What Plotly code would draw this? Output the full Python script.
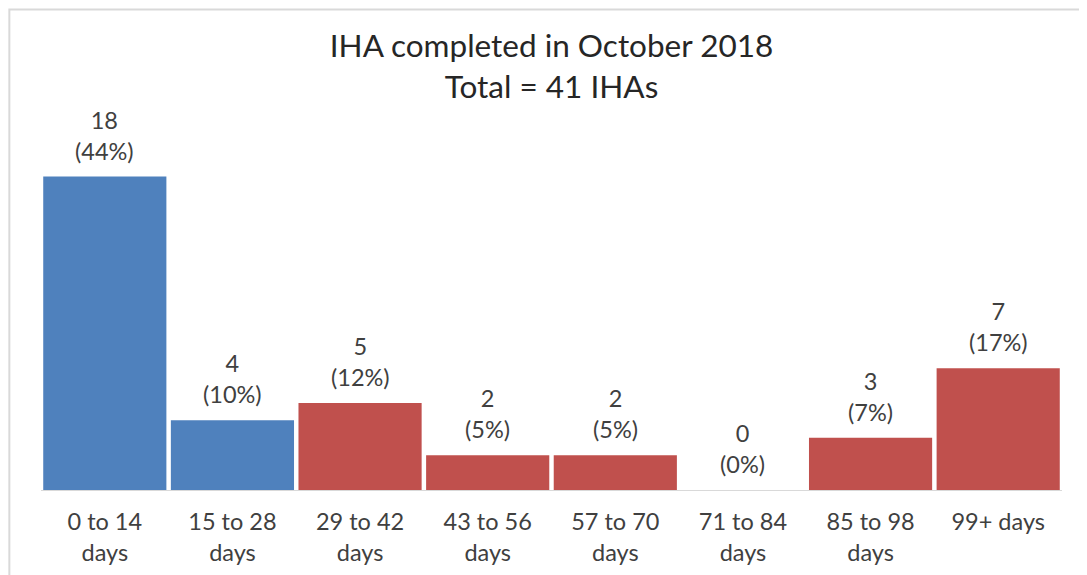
import plotly.graph_objects as go

categories = ["0 to 14<br>days", "15 to 28<br>days", "29 to 42<br>days", "43 to 56<br>days",
              "57 to 70<br>days", "71 to 84<br>days", "85 to 98<br>days", "99+ days"]
counts = [18, 4, 5, 2, 2, 0, 3, 7]
percents = [44, 10, 12, 5, 5, 0, 7, 17]
colors = ["#4F81BD", "#4F81BD", "#C0504D", "#C0504D", "#C0504D", "#C0504D", "#C0504D", "#C0504D"]

labels = [f"{c}<br>({p}%)" for c, p in zip(counts, percents)]

fig = go.Figure(go.Bar(x=categories, y=counts, marker_color=colors, marker_line_width=0))

# value labels above bars, a bit more spaced than the default outside text
for cat, cnt, lab in zip(categories, counts, labels):
    fig.add_annotation(x=cat, y=cnt, text=lab, showarrow=False, yanchor="bottom", yshift=10,
                       font=dict(size=23.5, color="#404040"))

fig.update_layout(
    width=1087, height=575,
    title=dict(text="IHA completed in October 2018<br>Total = 41 IHAs", x=0.5, xref="paper",
               xanchor="center", y=0.914, yanchor="middle", font=dict(size=31.5, color="#262626")),
    font=dict(family="Lato, Open Sans, sans-serif", color="#404040"),
    paper_bgcolor="white", plot_bgcolor="white",
    margin=dict(l=33, r=33, t=92, b=93),
    bargap=0.035,
    showlegend=False,
    xaxis=dict(showline=True, linecolor="#D9D9D9", linewidth=1, tickfont=dict(size=23.5),
               ticks="", showgrid=False, ticklabelstandoff=11, automargin=False),
    yaxis=dict(range=[0, 22.4], visible=False, showgrid=False),
    shapes=[dict(type="rect", xref="paper", yref="paper", x0=-0.031, x1=1.0206, y0=-0.25, y1=1.232,
                 line=dict(color="#D9D9D9", width=2), layer="below")],
)

fig.write_html("out.html")
